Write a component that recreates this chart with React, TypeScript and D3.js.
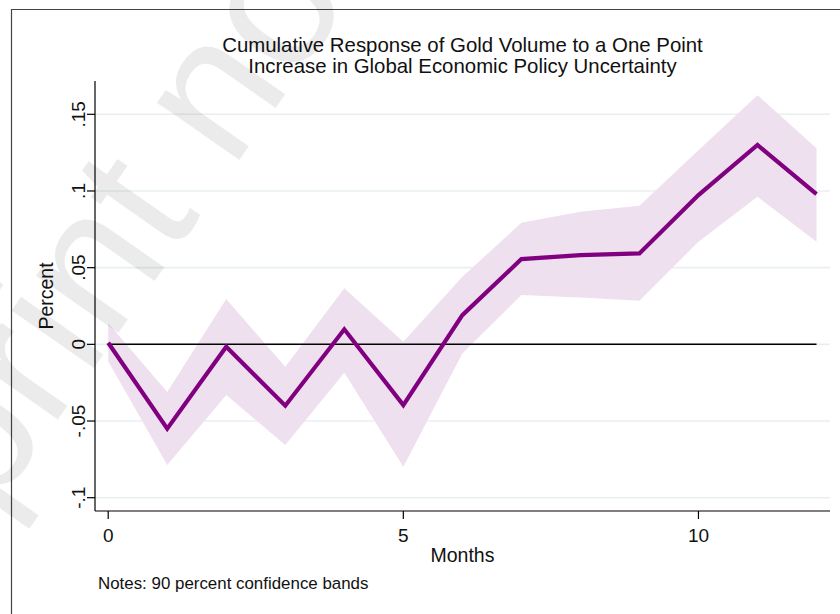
import React from "react";
import * as d3 from "d3";

const months = [0, 1, 2, 3, 4, 5, 6, 7, 8, 9, 10, 11, 12];
const response = [0.001, -0.055, -0.0016, -0.040, 0.0098, -0.0396, 0.019, 0.0556, 0.0582, 0.0593, 0.0973, 0.130, 0.098];
const upper = [0.0137, -0.031, 0.0295, -0.0146, 0.0365, 0.0017, 0.044, 0.0793, 0.0865, 0.0904, 0.1265, 0.1625, 0.1278];
const lower = [-0.011, -0.0787, -0.033, -0.0656, -0.0185, -0.0798, -0.006, 0.0321, 0.0306, 0.0284, 0.0669, 0.0962, 0.0669];
const yTicks = [-0.1, -0.05, 0, 0.05, 0.1, 0.15];
const yTickLabels = ["-.1", "-.05", "0", ".05", ".1", ".15"];
const xTicks = [0, 5, 10];

const W = 840;
const H = 614;
const plot = { left: 95, right: 830, top: 81, bottom: 511 };
const FONT = "Arial, 'Liberation Sans', Helvetica, sans-serif";

export default function App() {
  const x = d3.scaleLinear().domain([0, 12]).range([108.2, 816.5]);
  const y = d3.scaleLinear().domain([-0.1, 0.15]).range([497.7, 114.3]);

  const area = d3
    .area<number>()
    .x((_, i) => x(months[i]))
    .y0((_, i) => y(lower[i]))
    .y1((_, i) => y(upper[i]));
  const line = d3
    .line<number>()
    .x((_, i) => x(months[i]))
    .y((d) => y(d));

  return (
    <svg width={W} height={H} style={{ position: "absolute", left: 0, top: 0, background: "#fff" }} fontFamily={FONT}>
      <rect x={0} y={0} width={W} height={H} fill="#fff" />
      {/* outer frame */}
      <path d={`M11.5,${H} V9.5 H${W}`} fill="none" stroke="#444" strokeWidth={1.2} />

      {/* title */}
      <text x={462.5} y={52} textAnchor="middle" fontSize={20.4} fill="#111">
        Cumulative Response of Gold Volume to a One Point
      </text>
      <text x={462.5} y={73} textAnchor="middle" fontSize={20.4} fill="#111">
        Increase in Global Economic Policy Uncertainty
      </text>

      {/* gridlines */}
      {yTicks.map((t) => (
        <line key={"g" + t} x1={plot.left} x2={plot.right} y1={y(t)} y2={y(t)} stroke="#e8eff2" strokeWidth={1.6} />
      ))}

      {/* band */}
      <path d={area(months) || ""} fill="#eee0ef" />

      {/* zero line */}
      <line x1={x(0)} x2={x(12)} y1={y(0)} y2={y(0)} stroke="#000" strokeWidth={1.5} />

      {/* response line */}
      <path d={line(response) || ""} fill="none" stroke="#800080" strokeWidth={4.2} strokeLinejoin="miter" />

      {/* axes */}
      <line x1={plot.left} x2={plot.left} y1={plot.top} y2={plot.bottom} stroke="#000" strokeWidth={1.2} />
      <line x1={plot.left} x2={plot.right} y1={plot.bottom} y2={plot.bottom} stroke="#000" strokeWidth={1.2} />
      {yTicks.map((t, i) => (
        <g key={"yt" + t}>
          <line x1={plot.left - 8} x2={plot.left} y1={y(t)} y2={y(t)} stroke="#000" strokeWidth={1.2} />
          <text transform={`translate(84.5,${y(t)}) rotate(-90)`} textAnchor="middle" fontSize={19} fill="#111">
            {yTickLabels[i]}
          </text>
        </g>
      ))}
      {xTicks.map((t) => (
        <g key={"xt" + t}>
          <line x1={x(t)} x2={x(t)} y1={plot.bottom} y2={plot.bottom + 8} stroke="#000" strokeWidth={1.2} />
          <text x={x(t)} y={542} textAnchor="middle" fontSize={19} fill="#111">
            {t}
          </text>
        </g>
      ))}
      <text transform={`translate(53,296) rotate(-90)`} textAnchor="middle" fontSize={19.5} fill="#111">
        Percent
      </text>
      <text x={462.5} y={562} textAnchor="middle" fontSize={19.5} fill="#111">
        Months
      </text>
      <text x={98} y={589} fontSize={16.9} fill="#111">
        Notes: 90 percent confidence bands
      </text>

      {/* watermark */}
      <text
        transform={`translate(-180,759) rotate(-55)`}
        fontSize={190}
        fill="#000"
        fillOpacity={0.08}
      >
        Preprint not peer reviewed
      </text>
    </svg>
  );
}
